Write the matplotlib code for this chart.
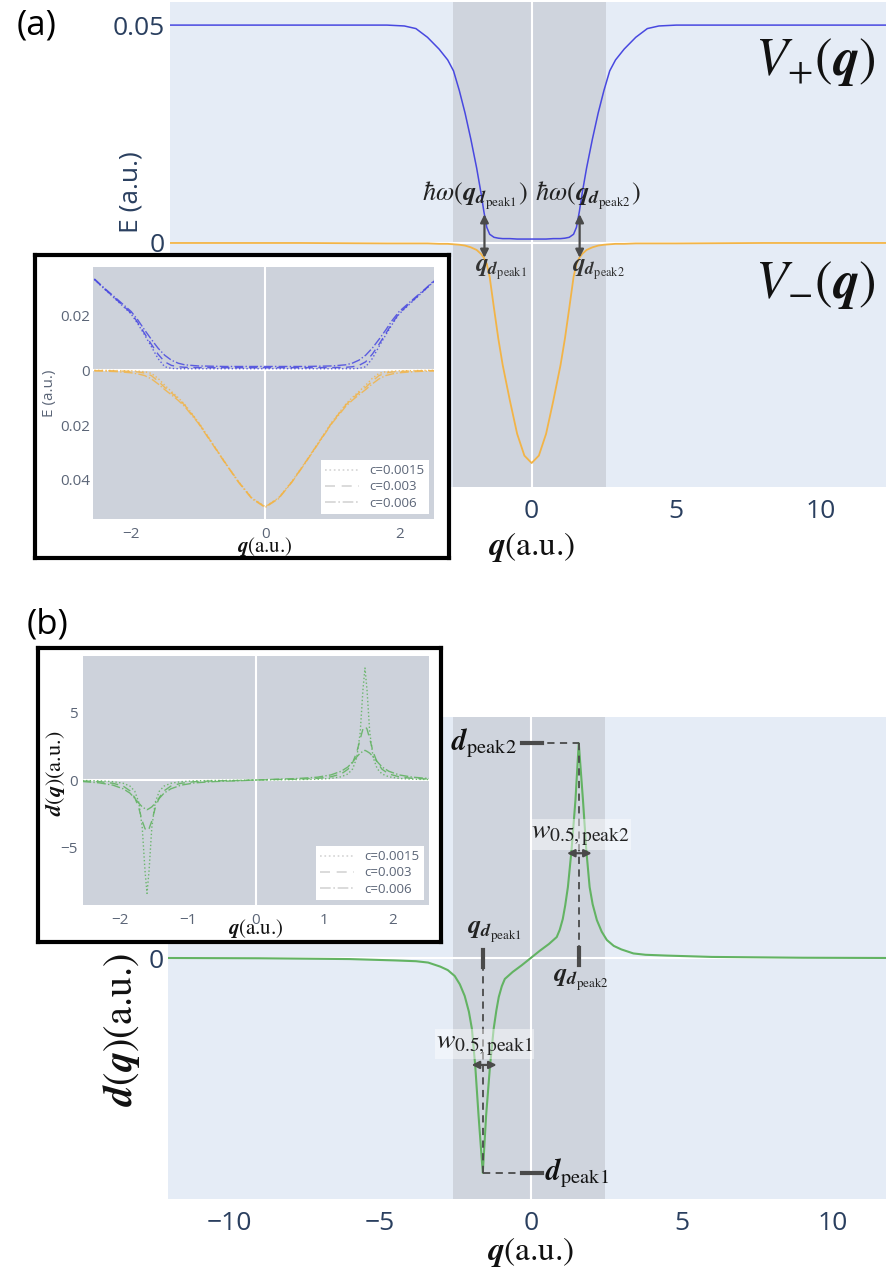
import matplotlib
matplotlib.use("Agg")
import matplotlib.pyplot as plt
from matplotlib.lines import Line2D

plt.rcParams["font.family"] = ["Open Sans", "DejaVu Sans"]
plt.rcParams["mathtext.fontset"] = "stix"

W, H = 886, 1274

# ---------------- panel (a): main curves ----------------
q_main = [-12.5, -8.0, -5.0, -4.4, -4.0, -3.6, -3.2, -2.9, -2.7, -2.5, -2.3, -2.1,
          -1.9, -1.75, -1.65, -1.55, -1.45, -1.3, -1.15, -1.0, -0.75, -0.5, -0.25,
          0.0,
          0.25, 0.5, 0.75, 1.0, 1.15, 1.3, 1.45, 1.55, 1.65, 1.75, 1.9, 2.1, 2.3,
          2.5, 2.7, 2.9, 3.2, 3.6, 4.0, 4.4, 5.0, 8.0, 12.5]
v_plus = [0.0500, 0.0500, 0.0500, 0.0498, 0.0492, 0.0472, 0.0445, 0.0420, 0.0395, 0.0350, 0.0298, 0.0238,
          0.0172, 0.0115, 0.0072, 0.0036, 0.0020, 0.0013, 0.0011, 0.0010, 0.0010, 0.0009, 0.0009,
          0.0009,
          0.0009, 0.0009, 0.0010, 0.0010, 0.0011, 0.0013, 0.0020, 0.0036, 0.0072, 0.0115, 0.0172, 0.0238, 0.0298,
          0.0350, 0.0395, 0.0420, 0.0445, 0.0472, 0.0492, 0.0498, 0.0500, 0.0500, 0.0500]
v_minus = [0.0, 0.0, -0.0001, -0.0001, -0.0001, -0.0001, -0.0002, -0.0002, -0.0003, -0.0004, -0.0006, -0.0010,
           -0.0016, -0.0025, -0.0034, -0.0048, -0.0078, -0.0150, -0.0220, -0.0280, -0.0362, -0.0438, -0.0488,
           -0.0505,
           -0.0488, -0.0438, -0.0362, -0.0280, -0.0220, -0.0150, -0.0078, -0.0048, -0.0034, -0.0025, -0.0016, -0.0010, -0.0006,
           -0.0004, -0.0003, -0.0002, -0.0002, -0.0001, -0.0001, -0.0001, -0.0001, 0.0, 0.0]

# panel (a) inset: three coupling strengths
c_labels = ["c=0.0015", "c=0.003", "c=0.006"]
q_in = [-2.55, -2.4, -2.2, -2.0, -1.9, -1.8, -1.7, -1.6, -1.5, -1.4, -1.3, -1.2, -1.0, -0.8, -0.6, -0.4, -0.2,
        0.0,
        0.2, 0.4, 0.6, 0.8, 1.0, 1.2, 1.3, 1.4, 1.5, 1.6, 1.7, 1.8, 1.9, 2.0, 2.2, 2.4, 2.55]
vp_c1 = [0.0330, 0.0295, 0.0250, 0.0204, 0.0168, 0.0128, 0.0086, 0.0042, 0.0012, 0.0006, 0.0005, 0.0005, 0.0005, 0.0005, 0.0005, 0.0005, 0.0005,
         0.0005,
         0.0005, 0.0005, 0.0005, 0.0005, 0.0005, 0.0005, 0.0005, 0.0006, 0.0012, 0.0042, 0.0086, 0.0128, 0.0168, 0.0204, 0.0250, 0.0295, 0.0330]
vp_c2 = [0.0330, 0.0296, 0.0252, 0.0207, 0.0172, 0.0133, 0.0094, 0.0058, 0.0030, 0.0017, 0.0012, 0.0010, 0.0009, 0.0009, 0.0009, 0.0009, 0.0009,
         0.0009,
         0.0009, 0.0009, 0.0009, 0.0009, 0.0009, 0.0010, 0.0012, 0.0017, 0.0030, 0.0058, 0.0094, 0.0133, 0.0172, 0.0207, 0.0252, 0.0296, 0.0330]
vp_c3 = [0.0332, 0.0298, 0.0256, 0.0213, 0.0182, 0.0146, 0.0112, 0.0080, 0.0054, 0.0036, 0.0025, 0.0019, 0.0015, 0.0014, 0.0013, 0.0013, 0.0013,
         0.0013,
         0.0013, 0.0013, 0.0013, 0.0014, 0.0015, 0.0019, 0.0025, 0.0036, 0.0054, 0.0080, 0.0112, 0.0146, 0.0182, 0.0213, 0.0256, 0.0298, 0.0332]
vm_c1 = [-0.0001, -0.0001, -0.0002, -0.0003, -0.0004, -0.0006, -0.0012, -0.0030, -0.0055, -0.0078, -0.0100, -0.0125, -0.0188, -0.0262, -0.0335, -0.0405, -0.0465,
         -0.0497,
         -0.0465, -0.0405, -0.0335, -0.0262, -0.0188, -0.0125, -0.0100, -0.0078, -0.0055, -0.0030, -0.0012, -0.0006, -0.0004, -0.0003, -0.0002, -0.0001, -0.0001]
vm_c2 = [-0.0002, -0.0002, -0.0003, -0.0005, -0.0007, -0.0011, -0.0020, -0.0040, -0.0063, -0.0083, -0.0104, -0.0128, -0.0190, -0.0263, -0.0336, -0.0406, -0.0466,
         -0.0498,
         -0.0466, -0.0406, -0.0336, -0.0263, -0.0190, -0.0128, -0.0104, -0.0083, -0.0063, -0.0040, -0.0020, -0.0011, -0.0007, -0.0005, -0.0003, -0.0002, -0.0002]
vm_c3 = [-0.0003, -0.0004, -0.0006, -0.0010, -0.0014, -0.0020, -0.0032, -0.0050, -0.0071, -0.0090, -0.0110, -0.0133, -0.0193, -0.0265, -0.0338, -0.0408, -0.0468,
         -0.0500,
         -0.0468, -0.0408, -0.0338, -0.0265, -0.0193, -0.0133, -0.0110, -0.0090, -0.0071, -0.0050, -0.0032, -0.0020, -0.0014, -0.0010, -0.0006, -0.0004, -0.0003]

# ---------------- panel (b): coupling d(q) ----------------
q_d = [-12.0, -9.0, -6.0, -4.5, -3.8, -3.4, -3.0, -2.75, -2.52, -2.35, -2.19, -2.05, -1.95, -1.84, -1.73,
       -1.59, -1.48, -1.35, -1.23, -1.14, -1.06, -0.96, -0.86, -0.6, -0.3,
       0.0,
       0.3, 0.6, 0.86, 0.96, 1.06, 1.14, 1.23, 1.35, 1.48, 1.59,
       1.73, 1.84, 1.95, 2.05, 2.19, 2.35, 2.52, 2.75, 3.0, 3.4, 3.8, 4.5, 6.0, 9.0, 12.0]
d_main = [0.0, -0.01, -0.04, -0.09, -0.12, -0.17, -0.32, -0.45, -0.67, -0.98, -1.41, -2.0, -2.64, -4.01, -5.87,
          -8.0, -5.87, -4.01, -2.64, -1.95, -1.45, -1.05, -0.78, -0.52, -0.27,
          0.0,
          0.27, 0.52, 0.78, 1.05, 1.45, 1.95, 2.64, 4.01, 5.87, 8.0,
          5.87, 4.01, 2.64, 2.0, 1.41, 0.98, 0.67, 0.45, 0.32, 0.17, 0.12, 0.09, 0.04, 0.01, 0.0]

q_in_d = [-2.55, -2.3, -2.1, -1.95, -1.85, -1.78, -1.72, -1.67, -1.63, -1.6, -1.57, -1.53, -1.48, -1.42, -1.35, -1.25, -1.1, -0.9, -0.6, -0.3,
          0.0,
          0.3, 0.6, 0.9, 1.1, 1.25, 1.35, 1.42, 1.48, 1.53, 1.57, 1.6, 1.63, 1.67, 1.72, 1.78, 1.85, 1.95, 2.1, 2.3, 2.55]
d_c1 = [-0.035, -0.06, -0.12, -0.24, -0.45, -0.83, -1.67, -3.53, -6.7, -8.4, -6.7, -3.53, -1.67, -0.83, -0.45, -0.24, -0.12, -0.06, -0.03, -0.02,
        0.0,
        0.02, 0.03, 0.06, 0.12, 0.24, 0.45, 0.83, 1.67, 3.53, 6.67, 8.3, 6.67, 3.53, 1.67, 0.83, 0.45, 0.24, 0.12, 0.06, 0.035]
d_c2 = [-0.065, -0.12, -0.24, -0.45, -0.80, -1.30, -2.08, -3.04, -3.6, -3.8, -3.6, -3.04, -2.08, -1.30, -0.80, -0.45, -0.24, -0.12, -0.06, -0.04,
        0.0,
        0.04, 0.06, 0.12, 0.24, 0.45, 0.80, 1.30, 2.08, 3.04, 3.78, 4.0, 3.78, 3.04, 2.08, 1.30, 0.80, 0.45, 0.24, 0.12, 0.065]
d_c3 = [-0.11, -0.21, -0.38, -0.65, -0.97, -1.36, -1.72, -1.99, -2.12, -2.2, -2.12, -1.99, -1.72, -1.36, -0.97, -0.65, -0.38, -0.21, -0.11, -0.06,
        0.0,
        0.06, 0.11, 0.21, 0.38, 0.65, 0.97, 1.36, 1.72, 1.99, 2.12, 2.2, 2.12, 1.99, 1.72, 1.36, 0.97, 0.65, 0.38, 0.21, 0.11]

# styling
BG = "#e5ecf6"
SHADE = "#cfd4dd"
INBG = "#cdd2db"
TXT = "#2a3f5f"
INTXT = "#5b6577"
BLUE = "#4848e0"
ORANGE = "#f2b447"
GREEN = "#63b363"
ANN = "#4a4a4a"
SERIF = "STIXGeneral"
styles = [":", (0, (6, 4)), "-."]


def box(x0, y0, x1, y1):
    # pixel box (origin top-left) -> figure rect
    return [x0 / W, 1 - y1 / H, (x1 - x0) / W, (y1 - y0) / H]


def ftext(x, y, s, **kw):
    fig.text(x / W, 1 - y / H, s, ha=kw.pop("ha", "center"), va=kw.pop("va", "center"), **kw)


def clean(ax, bg):
    ax.set_facecolor(bg)
    for s in ax.spines.values():
        s.set_visible(False)
    ax.axhline(0, color="white", lw=1.5, zorder=1)
    ax.axvline(0, color="white", lw=1.5, zorder=1)


def frame(rect):
    fr = fig.add_axes(rect)
    fr.set_facecolor("white")
    fr.set_xticks([])
    fr.set_yticks([])
    for s in fr.spines.values():
        s.set_linewidth(3)
        s.set_color("black")
    return fr


fig = plt.figure(figsize=(W / 100, H / 100), dpi=100)

# ---- (a) main
ax1 = fig.add_axes(box(170, 2, 886, 487))
clean(ax1, BG)
ax1.axvspan(-2.73, 2.56, color=SHADE, lw=0, zorder=0.5)
ax1.plot(q_main, v_plus, color=BLUE, lw=1.1, zorder=3)
ax1.plot(q_main, v_minus, color=ORANGE, lw=1.3, zorder=3)
ax1.set_xlim(-12.5, 12.25)
ax1.set_ylim(-0.056, 0.0553)
# ticks left of 0 sit under the inset anyway
ax1.set_xticks([0, 5, 10], ["0", "5", "10"])
ax1.set_yticks([0, 0.05], ["0", "0.05"])
ax1.tick_params(axis="both", length=0, labelsize=19, colors=TXT)
ax1.tick_params(axis="x", pad=9)
ax1.tick_params(axis="y", pad=4)

ax1.text(9.8, 0.0418, r"$V_{+}(\boldsymbol{q})$", fontsize=38, ha="center", va="center", color="#111111")
ax1.text(9.8, -0.0095, r"$V_{-}(\boldsymbol{q})$", fontsize=38, ha="center", va="center", color="#111111")
ax1.text(-0.14, 0.0108, r"$\hbar\omega(\boldsymbol{q}_{\boldsymbol{d}_{\mathrm{peak1}}})$",
         fontsize=19, ha="right", va="center", color="#222222", zorder=5)
ax1.text(0.10, 0.0108, r"$\hbar\omega(\boldsymbol{q}_{\boldsymbol{d}_{\mathrm{peak2}}})$",
         fontsize=19, ha="left", va="center", color="#222222", zorder=5)
for qa in [-1.63, 1.66]:
    ax1.annotate("", xy=(qa, 0.0066), xytext=(qa, -0.0034),
                 arrowprops=dict(arrowstyle="<|-|>", color=ANN, lw=1.6, mutation_scale=12,
                                 shrinkA=0, shrinkB=0), zorder=6)
ax1.text(-1.05, -0.0062, r"$\boldsymbol{q}_{\boldsymbol{d}_{\mathrm{peak1}}}$", fontsize=18,
         ha="center", va="center", color="#333333", zorder=5)
ax1.text(2.30, -0.0062, r"$\boldsymbol{q}_{\boldsymbol{d}_{\mathrm{peak2}}}$", fontsize=18,
         ha="center", va="center", color="#333333", zorder=5)

ftext(131, 192, "E (a.u.)", rotation=90, fontsize=19, color=TXT)
ftext(532, 547, r"$\boldsymbol{q}$(a.u.)", fontsize=24, color="#111111", family=SERIF)
ftext(37, 25, "(a)", fontsize=25, color="black")

# ---- (b) main
ax2 = fig.add_axes(box(168, 717, 886, 1199))
clean(ax2, BG)
ax2.axvspan(-2.58, 2.45, color=SHADE, lw=0, zorder=0.5)
ax2.plot(q_d, d_main, color=GREEN, lw=1.5, zorder=3)
ax2.set_xlim(-12.02, 11.77)
ax2.set_ylim(-8.97, 8.97)
ax2.set_xticks([-10, -5, 0, 5, 10], ["\u221210", "\u22125", "0", "5", "10"])
ax2.set_yticks([0], ["0"])
ax2.tick_params(axis="both", length=0, labelsize=19, colors=TXT)
ax2.tick_params(axis="x", pad=9)
ax2.tick_params(axis="y", pad=3)

i_max = d_main.index(max(d_main))
i_min = d_main.index(min(d_main))
q_p2, d_p2 = q_d[i_max], d_main[i_max]
q_p1, d_p1 = q_d[i_min], d_main[i_min]
dash = (0, (4, 3))
ax2.plot([q_p2, q_p2], [d_p2, -0.26], ls=dash, color=ANN, lw=1.3, zorder=4)
ax2.plot([q_p2, q_p2], [0.37, -0.26], color=ANN, lw=3, zorder=4)
ax2.plot([q_p1, q_p1], [d_p1, 0.30], ls=dash, color=ANN, lw=1.3, zorder=4)
ax2.plot([q_p1, q_p1], [0.30, -0.33], color=ANN, lw=3, zorder=4)
ax2.plot([-0.30, q_p2], [d_p2, d_p2], ls=dash, color=ANN, lw=1.3, zorder=4)
ax2.plot([-0.30, 0.36], [d_p2, d_p2], color=ANN, lw=3, zorder=4)
ax2.plot([q_p1, 0.36], [d_p1, d_p1], ls=dash, color=ANN, lw=1.3, zorder=4)
ax2.plot([-0.30, 0.36], [d_p1, d_p1], color=ANN, lw=3, zorder=4)

ax2.text(-0.46, d_p2, r"$\boldsymbol{d}_{\mathrm{peak2}}$", fontsize=21, ha="right", va="center", color="#111111")
ax2.text(0.46, d_p1, r"$\boldsymbol{d}_{\mathrm{peak1}}$", fontsize=21, ha="left", va="center", color="#111111")
ax2.text(1.66, -0.85, r"$\boldsymbol{q}_{\boldsymbol{d}_{\mathrm{peak2}}}$", fontsize=19, ha="center", va="center", color="#222222")
ax2.text(-1.22, 0.95, r"$\boldsymbol{q}_{\boldsymbol{d}_{\mathrm{peak1}}}$", fontsize=19, ha="center", va="center", color="#222222")
ax2.text(q_p2 + 0.05, 4.6, r"$w_{0.5,\mathrm{peak2}}$", fontsize=20, ha="center", va="center", color="#222222", zorder=5,
         bbox=dict(facecolor="white", alpha=0.45, edgecolor="none", pad=1))
ax2.text(q_p1 + 0.05, -3.2, r"$w_{0.5,\mathrm{peak1}}$", fontsize=20, ha="center", va="center", color="#222222", zorder=5,
         bbox=dict(facecolor="white", alpha=0.45, edgecolor="none", pad=1))
for (qa, qb, dy) in [(1.20, 2.02, 3.9), (-1.96, -1.13, -3.98)]:
    ax2.annotate("", xy=(qa, dy), xytext=(qb, dy),
                 arrowprops=dict(arrowstyle="<|-|>", color=ANN, lw=1.6, mutation_scale=11,
                                 shrinkA=0, shrinkB=0), zorder=6)

ftext(122, 1030, r"$\boldsymbol{d}(\boldsymbol{q})$(a.u.)", rotation=90, fontsize=29, color="#111111", family=SERIF)
ftext(531, 1252, r"$\boldsymbol{q}$(a.u.)", fontsize=24, color="#111111", family=SERIF)
ftext(47, 625, "(b)", fontsize=25, color="black")

# ---- (a) inset
frame(box(35, 255, 449, 558))
ia = fig.add_axes(box(93, 267, 434, 519))
clean(ia, INBG)
for vp, vm, ls in zip([vp_c1, vp_c2, vp_c3], [vm_c1, vm_c2, vm_c3], styles):
    ia.plot(q_in, vp, color=BLUE, ls=ls, lw=1.0, alpha=0.85, zorder=3)
    ia.plot(q_in, vm, color=ORANGE, ls=ls, lw=1.0, alpha=0.85, zorder=3)
ia.set_xlim(-2.57, 2.52)
ia.set_ylim(-0.0542, 0.0375)
ia.set_xticks([-2, 0, 2], ["\u22122", "0", "2"])
ia.set_yticks([0.02, 0, -0.02, -0.04], ["0.02", "0", "0.02", "0.04"])
ia.tick_params(axis="both", length=0, labelsize=11, colors=INTXT)
ia.tick_params(axis="x", pad=6)
ia.tick_params(axis="y", pad=2)
handles = [Line2D([], [], color="#d4d4d4", ls=ls, lw=1.2) for ls in styles]
ia.legend(handles, c_labels, loc="lower right", fontsize=9.5, labelcolor=INTXT, frameon=True,
          facecolor="white", edgecolor="none", framealpha=1, fancybox=False,
          borderaxespad=0.4, borderpad=0.3, labelspacing=0.25, handlelength=2.6)
ftext(50, 393, "E (a.u.)", rotation=90, fontsize=11, color=INTXT)
ftext(265, 546, r"$\boldsymbol{q}$(a.u.)", fontsize=15, color="#111111", family=SERIF)

# ---- (b) inset
frame(box(38, 648, 441, 942))
ib = fig.add_axes(box(83, 656, 429, 905))
clean(ib, INBG)
for dc, ls in zip([d_c1, d_c2, d_c3], styles):
    ib.plot(q_in_d, dc, color=GREEN, ls=ls, lw=1.0, alpha=0.9, zorder=3)
ib.set_xlim(-2.54, 2.54)
ib.set_ylim(-9.26, 9.19)
ib.set_xticks([-2, -1, 0, 1, 2], ["\u22122", "\u22121", "0", "1", "2"])
ib.set_yticks([-5, 0, 5], ["\u22125", "0", "5"])
ib.tick_params(axis="both", length=0, labelsize=11, colors=INTXT)
ib.tick_params(axis="x", pad=6)
ib.tick_params(axis="y", pad=4)
ib.legend(handles, c_labels, loc="lower right", fontsize=9.5, labelcolor=INTXT, frameon=True,
          facecolor="white", edgecolor="none", framealpha=1, fancybox=False,
          borderaxespad=0.4, borderpad=0.3, labelspacing=0.25, handlelength=2.6)
ftext(55, 773, r"$\boldsymbol{d}(\boldsymbol{q})$(a.u.)", rotation=90, fontsize=16, color="#111111", family=SERIF)
ftext(256, 929, r"$\boldsymbol{q}$(a.u.)", fontsize=15, color="#111111", family=SERIF)

fig.savefig("out.png", dpi=100)
